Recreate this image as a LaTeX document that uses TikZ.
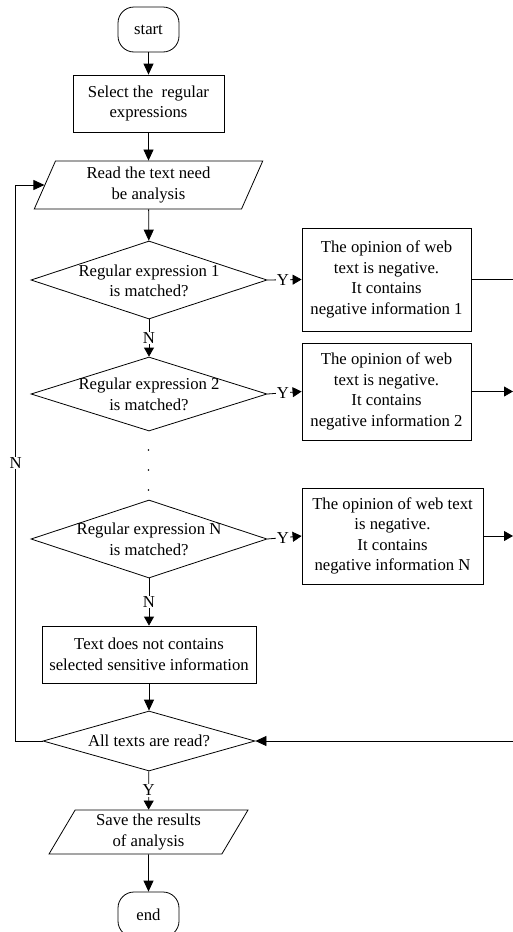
\documentclass[tikz,border=0pt]{standalone}
\usepackage{fontspec}
\setmainfont{Liberation Serif}
\usetikzlibrary{shapes.geometric,arrows.meta}
\tikzset{
  base/.style={draw, line width=0.8pt, inner sep=0pt, align=center, font=\fontsize{16.7}{20.5}\selectfont},
  term/.style={base, rounded corners=16pt, minimum width=61pt, minimum height=45pt},
  proc/.style={base, rectangle},
  io/.style={base, trapezium, trapezium stretches=true, trapezium left angle=#1, trapezium right angle=180-#1},
  dec/.style={base, diamond},
  txt/.style={inner sep=0pt, align=center, font=\fontsize{16.7}{20.5}\selectfont},
  lbl/.style={fill=white, inner sep=1pt, font=\fontsize{16.7}{20.5}\selectfont},
  flow/.style={line width=0.8pt, -{Triangle[length=11pt,width=10pt]}},
  flowsm/.style={line width=0.8pt, -{Triangle[length=9pt,width=10pt]}},
  plain/.style={line width=0.8pt}
}
\begin{document}
\begin{tikzpicture}[x=1pt,y=-1pt]
\useasboundingbox (0,0) rectangle (513,932);
\clip (0,0) rectangle (513,932);

\node[term] (start) at (148.5,29.5) {start};
\node[proc, minimum width=151pt, minimum height=57pt] (sel) at (148.5,103.5) {Select the\ \ regular\\expressions};
\node[io=68.4, minimum width=229pt, minimum height=48pt] (read) at (148.5,185) {Read the text need\\be analysis};

\node[dec, minimum width=236pt, minimum height=78pt] (d1) at (149,280) {};
\node[txt] (d1t) at (149,280.7) {Regular expression 1\\is matched?};
\node[proc, minimum width=169pt, minimum height=103pt] (b1) at (386.5,279.5) {The opinion of web\\text is negative.\\It contains\\negative information 1};

\node[dec, minimum width=236pt, minimum height=74pt] (d2) at (149,394) {};
\node[txt] (d2t) at (149,394.5) {Regular expression 2\\is matched?};
\node[proc, minimum width=169pt, minimum height=97pt] (b2) at (386.5,391.5) {The opinion of web\\text is negative.\\It contains\\negative information 2};

\fill (148.5,450) circle (0.9);
\fill (148.5,470) circle (0.9);
\fill (148.5,490) circle (0.9);

\node[dec, minimum width=236pt, minimum height=78pt] (dN) at (149,539) {};
\node[txt] (dNt) at (149,539.5) {Regular expression N\\is matched?};
\node[proc, minimum width=181pt, minimum height=96pt] (bN) at (392.5,536) {The opinion of web text\\is negative.\\It contains\\negative information N};

\node[proc, minimum width=214pt, minimum height=57pt] (none) at (149,654.5) {Text does not contains\\selected sensitive information};
\node[dec, minimum width=212pt, minimum height=60pt] (all) at (149,741) {};
\node[txt] (allt) at (149,741) {All texts are read?};
\node[io=62.4, minimum width=199pt, minimum height=44pt] (save) at (148.5,832) {Save the results\\of analysis};
\node[term] (end) at (148.5,914.5) {end};

\coordinate (lx) at (15.7,0);
\coordinate (rx) at (513,0);

\draw[flow] (start) -- (sel);
\draw[flow] (sel) -- (read);
\draw[flow] (read) -- (d1);
\draw[flowsm] (d1) -- node[lbl] {N} (d2);
\draw[flowsm] (d1.east) -- node[lbl, pos=0.45] {Y} (b1.west);
\draw[flowsm] (d2.east) -- node[lbl, pos=0.45] {Y} (b2.west);
\draw[flowsm] (dN.east) -- node[lbl, pos=0.45] {Y} (bN.west);
\draw[flowsm] (dN) -- node[lbl] {N} (none);
\draw[flow] (none) -- (all);
\draw[flowsm] (all) -- node[lbl] {Y} (save);
\draw[flow] (save) -- (end);

\draw[plain] (b1.east) -- (b1.east -| rx);
\draw[flowsm] (b2.east) -- (b2.east -| rx);
\draw[flowsm] (bN.east) -- (bN.east -| rx);
\draw[flow] (all.east -| rx) -- (all.east);

\draw[flow] (all.west) -- (all.west -| lx) |- node[lbl, pos=0.25] {N} (read.left side);
\end{tikzpicture}
\end{document}
